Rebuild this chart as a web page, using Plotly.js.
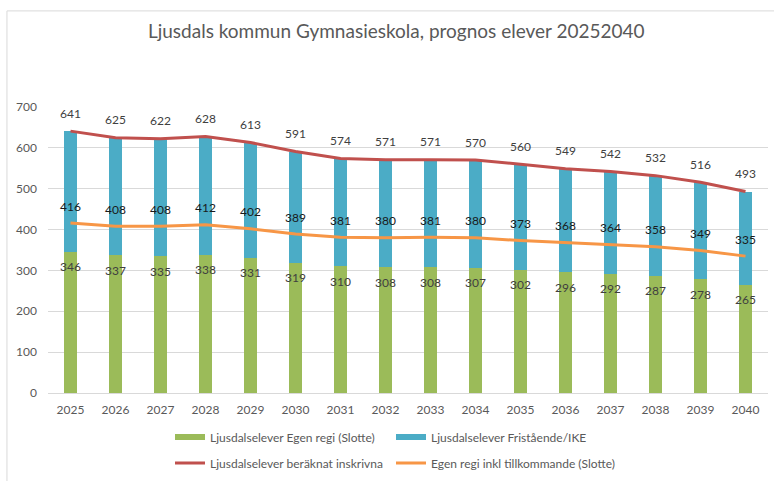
<!DOCTYPE html>
<html>
<head>
<meta charset="utf-8">
<script src="https://cdn.plot.ly/plotly-3.0.1.min.js"></script>
<style>html,body{margin:0;padding:0;background:#fff}#chart{width:774px;height:481px}</style>
</head>
<body>
<div id="chart"></div>
<script>
var years = ['2025','2026','2027','2028','2029','2030','2031','2032','2033','2034','2035','2036','2037','2038','2039','2040'];
var egenRegi = [346,337,335,338,331,319,310,308,308,307,302,296,292,287,278,265];
var beraknatInskrivna = [641,625,622,628,613,591,574,571,571,570,560,549,542,532,516,493];
var egenInklTillkommande = [416,408,408,412,402,389,381,380,381,380,373,368,364,358,349,335];
var fristaende = beraknatInskrivna.map(function(t,i){return t - egenRegi[i];});

var names = ['Ljusdalselever Egen regi (Slotte)','Ljusdalselever Fristående/IKE','Ljusdalselever beräknat inskrivna','Egen regi inkl tillkommande (Slotte)'];
var cGreen='#9BBB59', cBlue='#4BACC6', cRed='#C0504D', cOrange='#F79646';
var FONT = 'Lato, "Open Sans", sans-serif';

var traces = [
  {type:'bar', x:years, y:egenRegi, marker:{color:cGreen}, width:0.31, showlegend:false, hoverinfo:'skip'},
  {type:'bar', x:years, y:fristaende, marker:{color:cBlue}, width:0.31, showlegend:false, hoverinfo:'skip'},
  {type:'scatter', mode:'lines', x:years, y:beraknatInskrivna, line:{color:cRed,width:3}, showlegend:false, hoverinfo:'skip'},
  {type:'scatter', mode:'lines', x:years, y:egenInklTillkommande, line:{color:cOrange,width:3}, showlegend:false, hoverinfo:'skip'},
  // legend entries
  {type:'scatter', mode:'lines', x:[years[0]], y:[null], name:names[0], line:{color:cGreen,width:6}, legend:'legend', showlegend:true},
  {type:'scatter', mode:'lines', x:[years[0]], y:[null], name:names[1], line:{color:cBlue,width:6}, legend:'legend', showlegend:true, legendwidth:240},
  {type:'scatter', mode:'lines', x:[years[0]], y:[null], name:names[2], line:{color:cRed,width:3}, legend:'legend2', showlegend:true},
  {type:'scatter', mode:'lines', x:[years[0]], y:[null], name:names[3], line:{color:cOrange,width:3}, legend:'legend2', showlegend:true, legendwidth:240}
];

var annotations = [];
years.forEach(function(yr,i){
  annotations.push({x:i, y:beraknatInskrivna[i], text:String(beraknatInskrivna[i]), showarrow:false, yshift:18, font:{family:FONT,size:12,color:'#404040'}});
  annotations.push({x:i, y:egenInklTillkommande[i], text:String(egenInklTillkommande[i]), showarrow:false, yshift:17, font:{family:FONT,size:12,color:'#1a1a1a'}});
  annotations.push({x:i, y:egenRegi[i], text:String(egenRegi[i]), showarrow:false, yshift:-15, font:{family:FONT,size:12,color:'#404040'}});
});

var legendCommon = {orientation:'h', xref:'container', yref:'container', xanchor:'left', yanchor:'middle', entrywidth:176, entrywidthmode:'pixels', traceorder:'normal',
  font:{family:FONT,size:12,color:'#595959'}, bgcolor:'rgba(0,0,0,0)', itemclick:false, itemdoubleclick:false};

var layout = {
  width:774, height:481,
  margin:{l:48, r:6, t:107, b:88, autoexpand:false},
  paper_bgcolor:'#fff', plot_bgcolor:'#fff',
  barmode:'stack',
  font:{family:FONT, color:'#595959'},
  title:{text:'Ljusdals kommun Gymnasieskola, prognos elever 20252040', x:0.512, xanchor:'center', y:0.935, yanchor:'middle', font:{family:FONT,size:19,color:'#595959'}},
  xaxis:{type:'category', categoryorder:'array', categoryarray:years, range:[-0.5, years.length-0.5], showgrid:false, zeroline:false, showline:false, ticks:'', ticklabelstandoff:8, tickfont:{family:FONT,size:12,color:'#595959'}, fixedrange:true},
  yaxis:{range:[0,700], dtick:100, showgrid:true, gridcolor:'#d9d9d9', gridwidth:1, zeroline:true, zerolinecolor:'#d9d9d9', showline:false, ticks:'', ticklabelstandoff:10, tickfont:{family:FONT,size:12,color:'#595959'}, fixedrange:true},
  legend:Object.assign({x:170/774, y:1-437/481}, legendCommon),
  legend2:Object.assign({x:170/774, y:1-463/481}, legendCommon),
  annotations:annotations,
  shapes:[{type:'rect', xref:'paper', yref:'paper', x0:-0.057, x1:1.05, y0:-0.4, y1:1.336, line:{color:'#d9d9d9',width:1}, fillcolor:'rgba(0,0,0,0)', layer:'below'}]
};

Plotly.newPlot('chart', traces, layout, {displayModeBar:false, staticPlot:true});
</script>
</body>
</html>
